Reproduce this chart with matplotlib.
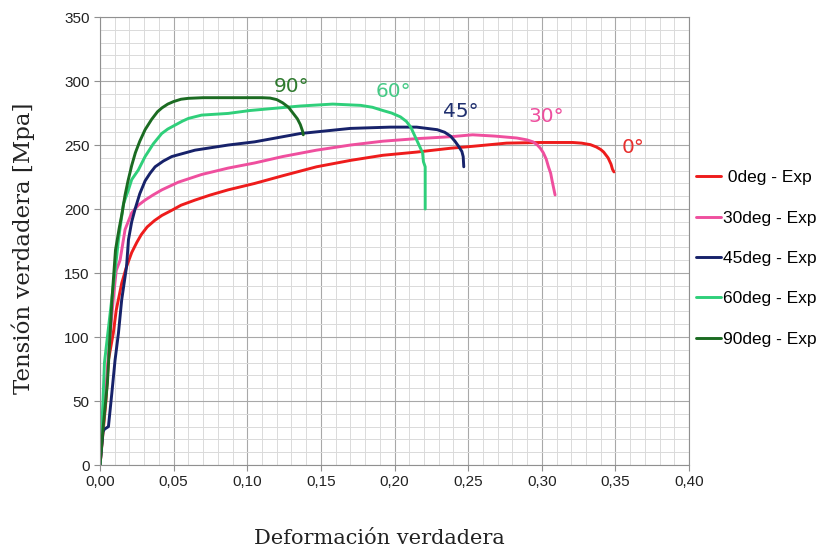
import numpy as np
import matplotlib.pyplot as plt
from matplotlib.ticker import MultipleLocator, FuncFormatter

# True stress-strain curves
x_0 = [0, 0.002, 0.004, 0.0057, 0.009, 0.011, 0.0147, 0.018, 0.0215, 0.025, 0.028, 0.032,
       0.037, 0.042, 0.0487, 0.055, 0.0645, 0.075, 0.087, 0.105, 0.124, 0.147, 0.170, 0.192,
       0.215, 0.238, 0.253, 0.276, 0.299, 0.321, 0.327, 0.333, 0.337, 0.340, 0.342, 0.345,
       0.347, 0.348, 0.349]
y_0 = [0, 25, 50, 82, 103, 121, 142, 155, 166, 174, 180, 186, 191, 195, 199, 203, 207, 211,
       215, 220, 226, 233, 238, 242, 244.5, 247.5, 249, 251.5, 252, 252, 251.5, 250.3, 248.5,
       246.5, 244.5, 240, 235, 231, 229]

x_30 = [0, 0.002, 0.004, 0.006, 0.009, 0.011, 0.0136, 0.017, 0.0215, 0.026, 0.0306, 0.036,
        0.042, 0.0532, 0.069, 0.087, 0.105, 0.124, 0.147, 0.170, 0.192, 0.215, 0.238, 0.253,
        0.268, 0.283, 0.290, 0.294, 0.297, 0.299, 0.301, 0.303, 0.3045, 0.306, 0.307, 0.309]
y_30 = [0, 30, 60, 90, 130, 152, 160, 184, 197, 203, 207, 211, 215, 221, 227, 232, 236, 241,
        246, 250, 253, 255, 256.5, 258, 257, 255.5, 254, 252.5, 250, 247.5, 244, 239, 233,
        228, 222, 211]

x_45 = [0, 0.002, 0.003, 0.0057, 0.008, 0.0102, 0.0125, 0.0147, 0.018, 0.0193, 0.0215,
        0.0238, 0.027, 0.0306, 0.034, 0.0374, 0.043, 0.0487, 0.0645, 0.087, 0.105, 0.136,
        0.170, 0.197, 0.215, 0.229, 0.234, 0.238, 0.241, 0.2435, 0.2457, 0.2466, 0.247]
y_45 = [0, 26, 28, 30, 56, 82, 103, 129, 155, 176, 190, 200, 212, 222, 228, 233, 237.5, 241,
        246, 250, 252.5, 259, 263, 264, 264, 262, 260, 257, 253, 249, 245, 241, 233]

x_60 = [0, 0.002, 0.003, 0.005, 0.007, 0.009, 0.011, 0.0125, 0.0159, 0.0193, 0.0215,
        0.026, 0.0306, 0.0362, 0.0419, 0.046, 0.051, 0.056, 0.060, 0.069, 0.087, 0.102,
        0.136, 0.158, 0.177, 0.185, 0.192, 0.198, 0.204, 0.208, 0.211, 0.215, 0.219, 0.2196,
        0.2208, 0.2208]
y_60 = [0, 50, 80, 100, 120, 140, 160, 176, 204, 215, 223, 230.5, 241, 251, 259, 262.5,
        265.6, 268.7, 270.8, 273.4, 274.7, 277, 280.5, 282, 281, 279.5, 277, 275, 272, 268.5,
        264, 254, 244, 237, 233, 200]

x_90 = [0, 0.002, 0.005, 0.0082, 0.0105, 0.013, 0.015, 0.017, 0.019, 0.0215, 0.024, 0.027,
        0.0306, 0.035, 0.039, 0.042, 0.046, 0.05, 0.055, 0.06, 0.07, 0.08, 0.09, 0.102, 0.11,
        0.1155, 0.12, 0.124, 0.128, 0.131, 0.134, 0.136, 0.1375, 0.138]
y_90 = [0, 28, 64, 131, 168, 185, 197, 211, 222, 234, 244, 253, 262, 270, 276, 279, 282,
        284, 285.8, 286.5, 287, 287, 287, 287, 287, 286.7, 285.5, 283, 279.5, 275, 270.5, 266,
        261, 258]

series_labels = [' 0deg - Exp', '30deg - Exp', '45deg - Exp', '60deg - Exp', '90deg - Exp']
colors = ['#ee1c1c', '#ef4f9e', '#17226a', '#2fcf7a', '#1b6b22']
angle_labels = ['0°', '30°', '45°', '60°', '90°']
angle_colors = ['#e8302e', '#ee4f9e', '#1f2f6e', '#45c985', '#2e7a2e']
angle_pos = [(0.362, 248), (0.303, 272), (0.245, 276), (0.199, 292), (0.130, 296)]

fig = plt.figure(figsize=(8.22, 5.5), dpi=100)
ax = fig.add_axes([0.1217, 0.1545, 0.7166, 0.8145])

xs = [x_0, x_30, x_45, x_60, x_90]
ys = [y_0, y_30, y_45, y_60, y_90]
for x, y, c, lab in zip(xs, ys, colors, series_labels):
    ax.plot(x, y, color=c, lw=2.1, label=lab, solid_capstyle='round', solid_joinstyle='round')

for (tx, ty), t, c in zip(angle_pos, angle_labels, angle_colors):
    ax.text(tx, ty, t, color=c, fontsize=14.5, family='DejaVu Sans', ha='center', va='center')

ax.set_xlim(0, 0.40)
ax.set_ylim(0, 350)
ax.xaxis.set_major_locator(MultipleLocator(0.05))
ax.xaxis.set_minor_locator(MultipleLocator(0.01))
ax.yaxis.set_major_locator(MultipleLocator(50))
ax.yaxis.set_minor_locator(MultipleLocator(10))
ax.xaxis.set_major_formatter(FuncFormatter(lambda v, p: f'{v:.2f}'.replace('.', ',')))
ax.grid(which='major', color='#a8a8a8', lw=0.8)
ax.grid(which='minor', color='#dadada', lw=0.7)
ax.set_axisbelow(True)
for s in ax.spines.values():
    s.set_color('#909090')
    s.set_linewidth(0.8)
ax.tick_params(which='major', length=4, color='#909090', labelsize=11, labelcolor='#222222')
ax.tick_params(which='minor', length=0)
for lab in ax.get_xticklabels() + ax.get_yticklabels():
    lab.set_family('Liberation Sans')

ax.set_xlabel('Deformación verdadera', family='DejaVu Serif', fontsize=15, color='#222222')
ax.set_ylabel('Tensión verdadera [Mpa]', family='DejaVu Serif', fontsize=16.5, color='#222222')
ax.xaxis.set_label_coords(0.475, -0.143)
ax.yaxis.set_label_coords(-0.111, 0.484)

leg = fig.legend(loc='center left', bbox_to_anchor=(0.828, 0.53), frameon=False,
                 prop={'family': 'Liberation Sans', 'size': 12.5}, handlelength=1.45,
                 handletextpad=0.1, labelspacing=1.45)

fig.savefig('out.png', dpi=100)
